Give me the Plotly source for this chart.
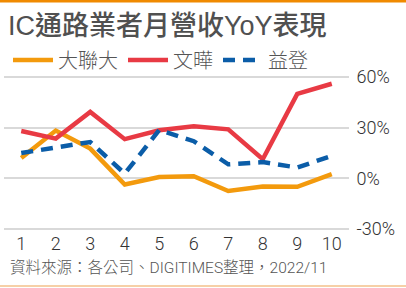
import plotly.graph_objects as go

months = [1, 2, 3, 4, 5, 6, 7, 8, 9, 10]
wpg = [12, 28.3, 17.6, -3.7, 0.8, 1.2, -7.5, -4.8, -5, 2.5]        # 大聯大
wt = [28, 23.5, 39.3, 23.2, 28.5, 30.8, 29, 11.3, 50, 56]          # 文曄
edom = [15, 18.3, 21.5, 2.8, 28.6, 22, 8.3, 9.6, 6.4, 13.3]        # 益登
series_names = ["大聯大", "文曄", "益登"]
y_ticks = [-30, 0, 30, 60]
y_ticktext = ["-30%", "0%", "30%", "60%"]

W, H = 406, 288
ML, MR, MT, MB = 4, 57, 75, 57
ph = H - MT - MB

CJK = "Liberation Sans, Noto Sans CJK TC, sans-serif"
NUM = "Roboto, Liberation Sans, sans-serif"
SRC = "Roboto, Noto Sans CJK TC, sans-serif"

fig = go.Figure()
fig.add_trace(go.Scatter(x=months, y=wpg, name=series_names[0], mode="lines",
                         line=dict(color="#F39A0D", width=4.5)))
fig.add_trace(go.Scatter(x=months, y=wt, name=series_names[1], mode="lines",
                         line=dict(color="#E83A44", width=4.5)))
fig.add_trace(go.Scatter(x=months, y=edom, name=series_names[2], mode="lines",
                         line=dict(color="#0B5DA8", width=4.5, dash="12px,8px")))

def py(px):
    # pixel from top -> paper y
    return (H - MB - px) / ph

fig.update_layout(
    width=W, height=H,
    margin=dict(l=ML, r=MR, t=MT, b=MB),
    paper_bgcolor="white", plot_bgcolor="white",
    showlegend=True,
    legend=dict(orientation="h", x=(8 - ML) / (W - ML - MR), xanchor="left",
                y=py(60), yanchor="middle",
                font=dict(family=CJK, size=20, color="#555555", weight=300),
                bgcolor="rgba(0,0,0,0)", itemwidth=40, tracegroupgap=0),
    title=dict(text="IC通路業者月營收YoY表現", xref="container", yref="container",
               x=8 / W, xanchor="left", y=1 - 26 / H, yanchor="middle",
               font=dict(family=CJK, size=27, color="#505050", weight=500)),
    xaxis=dict(range=[0.5, 10.5], tickmode="array", tickvals=months,
               ticktext=[str(m) for m in months], showgrid=False, zeroline=False,
               showline=False, ticks="",
               tickfont=dict(family=NUM, size=18, color="#333333", weight=300),
               fixedrange=True),
    yaxis=dict(range=[-31.2, 61.2], side="right", tickmode="array", tickvals=y_ticks,
               ticktext=y_ticktext, showgrid=True, gridcolor="#D9D9D9", gridwidth=1.5,
               zeroline=False, showline=False, ticks="outside", ticklen=3,
               tickcolor="rgba(0,0,0,0)",
               tickfont=dict(family=NUM, size=18, color="#333333", weight=300),
               fixedrange=True),
    annotations=[dict(text="資料來源：各公司、DIGITIMES整理，2022/11",
                      xref="paper", yref="paper", x=(8 - ML) / (W - ML - MR), xanchor="left",
                      y=py(268), yanchor="middle", showarrow=False,
                      font=dict(family=SRC, size=15.5, color="#555555", weight=300))],
    shapes=[
        dict(type="rect", xref="paper", yref="paper",
             x0=-ML / (W - ML - MR), x1=(W - ML) / (W - ML - MR),
             y0=py(2.5), y1=py(0), fillcolor="#F08A00", line=dict(width=0), layer="above"),
        dict(type="line", xref="paper", yref="paper",
             x0=-ML / (W - ML - MR), x1=(W - ML) / (W - ML - MR),
             y0=py(286), y1=py(286), line=dict(color="#F3C08A", width=1.5)),
    ],
)

fig.write_html("out.html", config={"displayModeBar": False})
